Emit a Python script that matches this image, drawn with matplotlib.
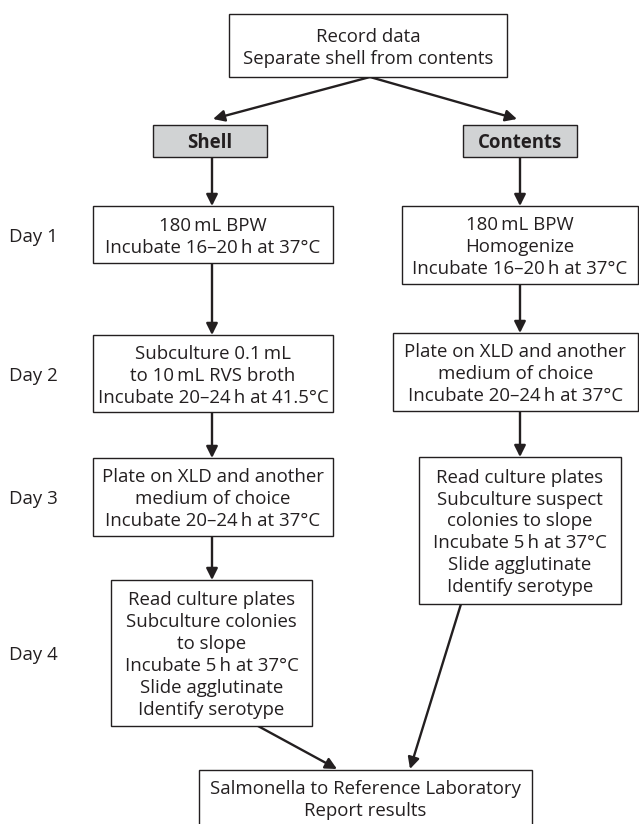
import matplotlib.pyplot as plt
from matplotlib.patches import Rectangle

# canvas in pixels, y grows downward
W, H = 639, 824
FONT = ['Open Sans', 'DejaVu Sans']
INK = '#231f20'
GREY = '#d1d3d4'
FONT_SIZE = 13.4
LINE_H = 22        # spacing between text lines inside a box
BASE_OFF = 7       # baseline offset so a line sits centred on its slot

# texts
day_labels = ['Day 1', 'Day 2', 'Day 3', 'Day 4']
top_lines = ['Record data', 'Separate shell from contents']
branch_labels = ['Shell', 'Contents']
shell_steps = [
    ['180\u2009mL BPW', 'Incubate 16–20\u2009h at 37°C'],
    ['Subculture 0.1\u2009mL', 'to 10\u2009mL RVS broth',
     'Incubate 20–24\u2009h at 41.5°C'],
    ['Plate on XLD and another', 'medium of choice',
     'Incubate 20–24\u2009h at 37°C'],
    ['Read culture plates', 'Subculture colonies', 'to slope',
     'Incubate 5\u2009h at 37°C', 'Slide agglutinate', 'Identify serotype'],
]
contents_steps = [
    ['180\u2009mL BPW', 'Homogenize', 'Incubate 16–20\u2009h at 37°C'],
    ['Plate on XLD and another', 'medium of choice',
     'Incubate 20–24\u2009h at 37°C'],
    ['Read culture plates', 'Subculture suspect', 'colonies to slope',
     'Incubate 5\u2009h at 37°C', 'Slide agglutinate', 'Identify serotype'],
]
final_lines = ['Salmonella to Reference Laboratory', 'Report results']

# layout: (left, right, top, bottom) in pixels
TOP_BOX = (229, 507, 14, 77)
BRANCH_BOXES = [(153, 267, 125, 157), (463, 577, 125, 157)]
SHELL_BOXES = [(93, 333, 206, 263), (93, 333, 335, 412),
               (93, 333, 458, 536), (111, 312, 580, 726)]
CONTENT_BOXES = [(402, 638, 206, 284), (393, 638, 333, 411),
                 (419, 621, 457, 604)]
FINAL_BOX = (199, 532, 770, 827)
COL_X = [212, 520]
DAY_X = 9


def draw_box(ax, box, lines, fill='white', weight='normal'):
    x0, x1, y0, y1 = box
    ax.add_patch(Rectangle((x0, y0), x1 - x0, y1 - y0, facecolor=fill,
                           edgecolor=INK, lw=1.0, zorder=2))
    cx, cy = (x0 + x1) / 2, (y0 + y1) / 2
    n = len(lines)
    for i, line in enumerate(lines):
        y = cy + (i - (n - 1) / 2) * LINE_H
        ax.text(cx, y + BASE_OFF, line, ha='center', va='baseline',
                family=FONT, fontsize=FONT_SIZE, fontweight=weight,
                color=INK, zorder=3)


def arrow(ax, start, end):
    ax.annotate('', xy=end, xytext=start,
                arrowprops=dict(arrowstyle='-|>', color=INK, lw=1.7,
                                mutation_scale=17, shrinkA=0, shrinkB=0),
                zorder=1)


fig = plt.figure(figsize=(W / 100, H / 100), dpi=100)
ax = fig.add_axes([0, 0, 1, 1])
ax.set_xlim(0, W)
ax.set_ylim(H, 0)
ax.axis('off')

draw_box(ax, TOP_BOX, top_lines)
for box, label in zip(BRANCH_BOXES, branch_labels):
    draw_box(ax, box, [label], fill=GREY, weight='bold')
for box, lines in zip(SHELL_BOXES, shell_steps):
    draw_box(ax, box, lines)
for box, lines in zip(CONTENT_BOXES, contents_steps):
    draw_box(ax, box, lines)
draw_box(ax, FINAL_BOX, final_lines)

# day labels centred on the shell column boxes
for box, label in zip(SHELL_BOXES, day_labels):
    ax.text(DAY_X, (box[2] + box[3]) / 2 + BASE_OFF, label, ha='left',
            va='baseline', family=FONT, fontsize=FONT_SIZE, color=INK)

# split from the top box
top_cx = (TOP_BOX[0] + TOP_BOX[1]) / 2 + 2
for x, box in zip(COL_X, BRANCH_BOXES):
    arrow(ax, (top_cx, TOP_BOX[3]), (x + 1 if x < 300 else x - 3, box[2] - 6))

# vertical chains
for x, branch, boxes in [(COL_X[0], BRANCH_BOXES[0], SHELL_BOXES),
                         (COL_X[1], BRANCH_BOXES[1], CONTENT_BOXES)]:
    prev = branch
    for box in boxes:
        arrow(ax, (x, prev[3]), (x, box[2]))
        prev = box

# merge into the final box
arrow(ax, (258, SHELL_BOXES[-1][3]), (337, FINAL_BOX[2] - 1))
arrow(ax, (461, CONTENT_BOXES[-1][3]), (410, FINAL_BOX[2] - 1))

fig.savefig('out.png', dpi=100)
